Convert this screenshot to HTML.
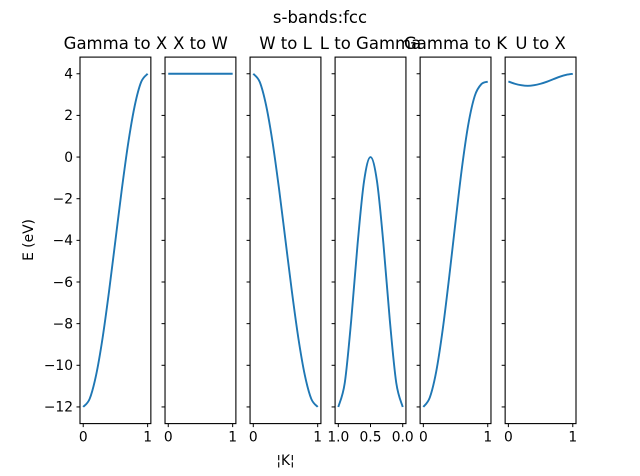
<!DOCTYPE html>
<html><head><meta charset="utf-8"><style>
html,body{margin:0;padding:0;background:#fff}
svg{display:block;font-family:"DejaVu Sans","Liberation Sans",sans-serif}
</style></head><body>
<svg id="chart" width="640" height="476" viewBox="0 0 640 476" xmlns="http://www.w3.org/2000/svg">
<rect width="640" height="476" fill="#fff"/>
<text x="320" y="23" font-size="16.5" text-anchor="middle">s-bands:fcc</text>
<text x="33" y="240" font-size="13.8" text-anchor="middle" transform="rotate(-90 33 240)">E (eV)</text>
<text x="285.5" y="465" font-size="13.8" text-anchor="middle">¦K¦</text>
</svg>
<script>
const titles = ["Gamma to X","X to W","W to L","L to Gamma","Gamma to K","U to X"];
const kValues = [0,0.1,0.2,0.3,0.4,0.5,0.6,0.7,0.8,0.9,1];
const gammaX = [-12,-11.61,-10.47,-8.70,-6.47,-4,-1.53,0.70,2.47,3.61,4];
const xW = [4,4,4,4,4,4,4,4,4,4,4];
const wL = [4,3.61,2.47,0.70,-1.53,-4,-6.47,-8.70,-10.47,-11.61,-12];
const lGamma = [-12,-10.85,-7.85,-4.15,-1.15,0,-1.15,-4.15,-7.85,-10.85,-12];
const gammaK = [-12,-11.55,-10.3,-8.3,-5.8,-3.1,-0.5,1.6,2.95,3.5,3.62];
const uX = [3.63,3.52,3.45,3.42,3.45,3.52,3.62,3.74,3.86,3.95,4.0];
const series = [gammaX,xW,wL,lGamma,gammaK,uX];
const reversed = [false,false,false,true,false,false];
const yTicks = [-12,-10,-8,-6,-4,-2,0,2,4];
const xTicksNormal = [0,1];
const xTickLabelsNormal = ["0","1"];
const xTicksRev = [1,0.5,0];
const xTickLabelsRev = ["1.0","0.5","0.0"];

const svg = document.getElementById('chart');
const NS = "http://www.w3.org/2000/svg";
const top0 = 57.1, bot0 = 423.6, yMin = -12.8, yMax = 4.8;
const axW = 496/7, gap = axW*0.2, left0 = 80;
function yPx(v){ return top0 + (yMax - v)/(yMax - yMin)*(bot0 - top0); }
function mk(tag, attrs){ const e = document.createElementNS(NS, tag); for (const k in attrs) e.setAttribute(k, attrs[k]); svg.appendChild(e); return e; }

series.forEach((vals, i) => {
  const L = left0 + i*(axW+gap), R = L + axW;
  const xPx = t => reversed[i] ? R - (t+0.05)/1.1*axW : L + (t+0.05)/1.1*axW;
  const pts = kValues.map((k,j) => [xPx(k), yPx(vals[j])]);
  let d = "M" + pts[0][0] + "," + pts[0][1];
  for (let j=0;j<pts.length-1;j++){
    const p0 = pts[Math.max(0,j-1)], p1 = pts[j], p2 = pts[j+1], p3 = pts[Math.min(pts.length-1,j+2)];
    const c1x = p1[0]+(p2[0]-p0[0])/6, c1y = p1[1]+(p2[1]-p0[1])/6;
    const c2x = p2[0]-(p3[0]-p1[0])/6, c2y = p2[1]-(p3[1]-p1[1])/6;
    d += " C"+c1x+","+c1y+" "+c2x+","+c2y+" "+p2[0]+","+p2[1];
  }
  const line = mk('path', {d:d, fill:'none', stroke:'#1f77b4', 'stroke-width':1.9});
  
  
  const frame = mk('rect', {x:L, y:top0, width:axW, height:bot0-top0, fill:'none', stroke:'#000', 'stroke-width':1.1});
  
  
  const title = mk('text', {x:(L+R)/2, y:49, 'font-size':16.5, 'text-anchor':'middle'});
  title.textContent = titles[i];
  
  
  yTicks.forEach(v => {
    const tk = mk('line', {x1:L-3.5, x2:L, y1:yPx(v), y2:yPx(v), stroke:'#000', 'stroke-width':1});
    
    
    if (i===0){
      const lb = mk('text', {x:L-7, y:yPx(v)+4.8, 'font-size':13.8, 'text-anchor':'end'});
      lb.textContent = (v<0 ? "\u2212"+Math.abs(v) : String(v));
      
      
    }
  });
  const xt = reversed[i] ? xTicksRev : xTicksNormal;
  const xl = reversed[i] ? xTickLabelsRev : xTickLabelsNormal;
  xt.forEach((t,j) => {
    const tk = mk('line', {x1:xPx(t), x2:xPx(t), y1:bot0, y2:bot0+3.5, stroke:'#000', 'stroke-width':1});
    
    
    const lb = mk('text', {x:xPx(t), y:bot0+18, 'font-size':13.8, 'text-anchor':'middle'});
    lb.textContent = xl[j];
    
    
  });
});
</script>
</body></html>
